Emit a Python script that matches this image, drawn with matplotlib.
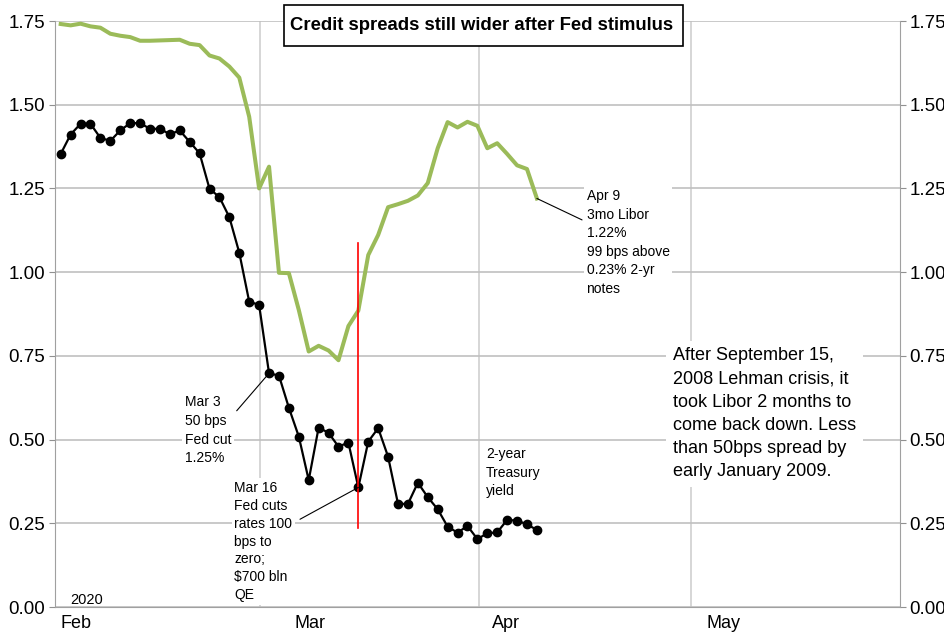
import numpy as np
import pandas as pd
import matplotlib
matplotlib.use("Agg")
import matplotlib.pyplot as plt
import matplotlib.dates as mdates
from matplotlib.patches import Rectangle
from matplotlib.ticker import FormatStrFormatter, NullFormatter

plt.rcParams['font.family'] = ['Liberation Sans', 'DejaVu Sans']

# daily series, weekdays Feb 3 - Apr 9 2020
dates = pd.bdate_range('2020-02-03', '2020-04-09')

libor_3m = [1.741, 1.737, 1.742, 1.734, 1.730, 1.712, 1.706, 1.702, 1.691, 1.691,
            1.692, 1.693, 1.694, 1.682, 1.678, 1.647, 1.638, 1.614, 1.581, 1.464,
            1.250, 1.315, 0.998, 0.997, 0.887, 0.763, 0.780, 0.766, 0.737, 0.839,
            0.885, 1.051, 1.111, 1.194, 1.203, 1.213, 1.229, 1.266, 1.370, 1.448,
            1.432, 1.449, 1.437, 1.370, 1.385, 1.353, 1.319, 1.308, 1.22]

treasury_2y = [1.353, 1.411, 1.443, 1.443, 1.401, 1.392, 1.423, 1.445, 1.445, 1.428,
               1.428, 1.412, 1.423, 1.389, 1.355, 1.249, 1.224, 1.164, 1.058, 0.912,
               0.902, 0.698, 0.691, 0.595, 0.509, 0.379, 0.536, 0.520, 0.479, 0.491,
               0.357, 0.494, 0.534, 0.449, 0.308, 0.308, 0.371, 0.328, 0.292, 0.240,
               0.222, 0.242, 0.203, 0.220, 0.223, 0.260, 0.258, 0.247, 0.23]

month_labels = ['Feb', 'Mar', 'Apr', 'May']
y_ticks = [0, 0.25, 0.5, 0.75, 1.0, 1.25, 1.5, 1.75]
fed_cut_span = (0.236, 1.087)

title = 'Credit spreads still wider after Fed stimulus'

fig = plt.figure(figsize=(9.45, 6.35), dpi=100)
ax = fig.add_axes([55 / 945, 28 / 635, 845 / 945, 586 / 635])

# calendar axis: month gridlines and labels
start = mdates.date2num(pd.Timestamp('2020-02-01'))
ax.set_xlim(start, start + 119.5)
ax.set_ylim(0, 1.75)
ax.xaxis.set_major_locator(mdates.MonthLocator())
ax.xaxis.set_major_formatter(NullFormatter())
ax.set_xticks([start + d for d in (2.9, 36.1, 63.8, 94.6)], month_labels, minor=True)
ax.tick_params(axis='x', which='both', length=0)
ax.tick_params(axis='x', which='minor', pad=6, labelsize=13)
ax.grid(axis='x', which='major', color='#d6d6d6', lw=1.4)

ax.set_yticks(y_ticks)
ax.yaxis.set_major_formatter(FormatStrFormatter('%.2f'))
ax.grid(axis='y', color='#c0c0c0', lw=1.2)
ax.tick_params(axis='y', left=True, right=True, labelleft=True, labelright=True,
               length=4, color='#909090', direction='out', labelsize=13.5, pad=3)
ax.spines['top'].set_visible(False)
for s in ('left', 'right', 'bottom'):
    ax.spines[s].set_color('#a0a0a0')
ax.set_axisbelow(True)

# trading-day axis for the series
axd = ax.twiny()
axd.set_xlim(-0.575, 84.6)
axd.xaxis.set_visible(False)
for s in axd.spines.values():
    s.set_visible(False)

x = np.arange(len(dates))
axd.plot(x, libor_3m, color='#9bbb59', lw=2.9, zorder=3)
axd.plot(x, treasury_2y, color='black', lw=1.6, marker='o', ms=6, zorder=4)

i_mar3 = dates.get_loc(pd.Timestamp('2020-03-03'))
i_mar16 = dates.get_loc(pd.Timestamp('2020-03-16'))
i_apr9 = dates.get_loc(pd.Timestamp('2020-04-09'))

axd.plot([i_mar16, i_mar16], fed_cut_span, color='red', lw=1.2, zorder=5)

small = dict(fontsize=10, ha='left', va='top', linespacing=1.42,
             bbox=dict(fc='white', ec='none', pad=2), zorder=6)
leader = dict(arrowstyle='-', lw=0.8, color='black', shrinkA=0, shrinkB=0)

axd.text(12.53, 0.632, 'Mar 3\n50 bps\nFed cut\n1.25%', **small)
axd.annotate('', xy=(i_mar3, treasury_2y[i_mar3]), xytext=(17.74, 0.586),
             arrowprops=leader, zorder=6)

axd.text(17.5, 0.376, 'Mar 16\nFed cuts\nrates 100\nbps to\nzero;\n$700 bln\nQE',
         **{**small, 'linespacing': 1.35})
axd.annotate('', xy=(i_mar16, treasury_2y[i_mar16]), xytext=(24.12, 0.262),
             arrowprops=leader, zorder=6)

axd.text(42.88, 0.478, '2-year\nTreasury\nyield', **small)

axd.text(53.0, 1.2485, 'Apr 9\n3mo Libor\n1.22%\n99 bps above\n0.23% 2-yr\nnotes', **small)
axd.annotate('', xy=(i_apr9, libor_3m[i_apr9]), xytext=(52.55, 1.156),
             arrowprops=leader, zorder=6)

axd.text(61.72, 0.775,
         'After September 15,\n2008 Lehman crisis, it\ntook Libor 2 months to\n'
         'come back down. Less\nthan 50bps spread by\nearly January 2009.',
         fontsize=13, ha='left', va='top', linespacing=1.47,
         bbox=dict(fc='white', ec='none', pad=5), zorder=6)

ax.text(0.018, 0.0, '2020', transform=ax.transAxes, fontsize=10.5,
        ha='left', va='bottom')

# boxed title
fig.add_artist(Rectangle((284 / 945, 1 - 46 / 635), 399 / 945, 41 / 635,
                         transform=fig.transFigure, fc='white', ec='black', lw=1.2, zorder=10))
fig.text(482 / 945, 1 - 25.5 / 635, title, ha='center', va='center',
         fontsize=13.3, fontweight='bold', zorder=11)

fig.savefig('out.png', dpi=100)
